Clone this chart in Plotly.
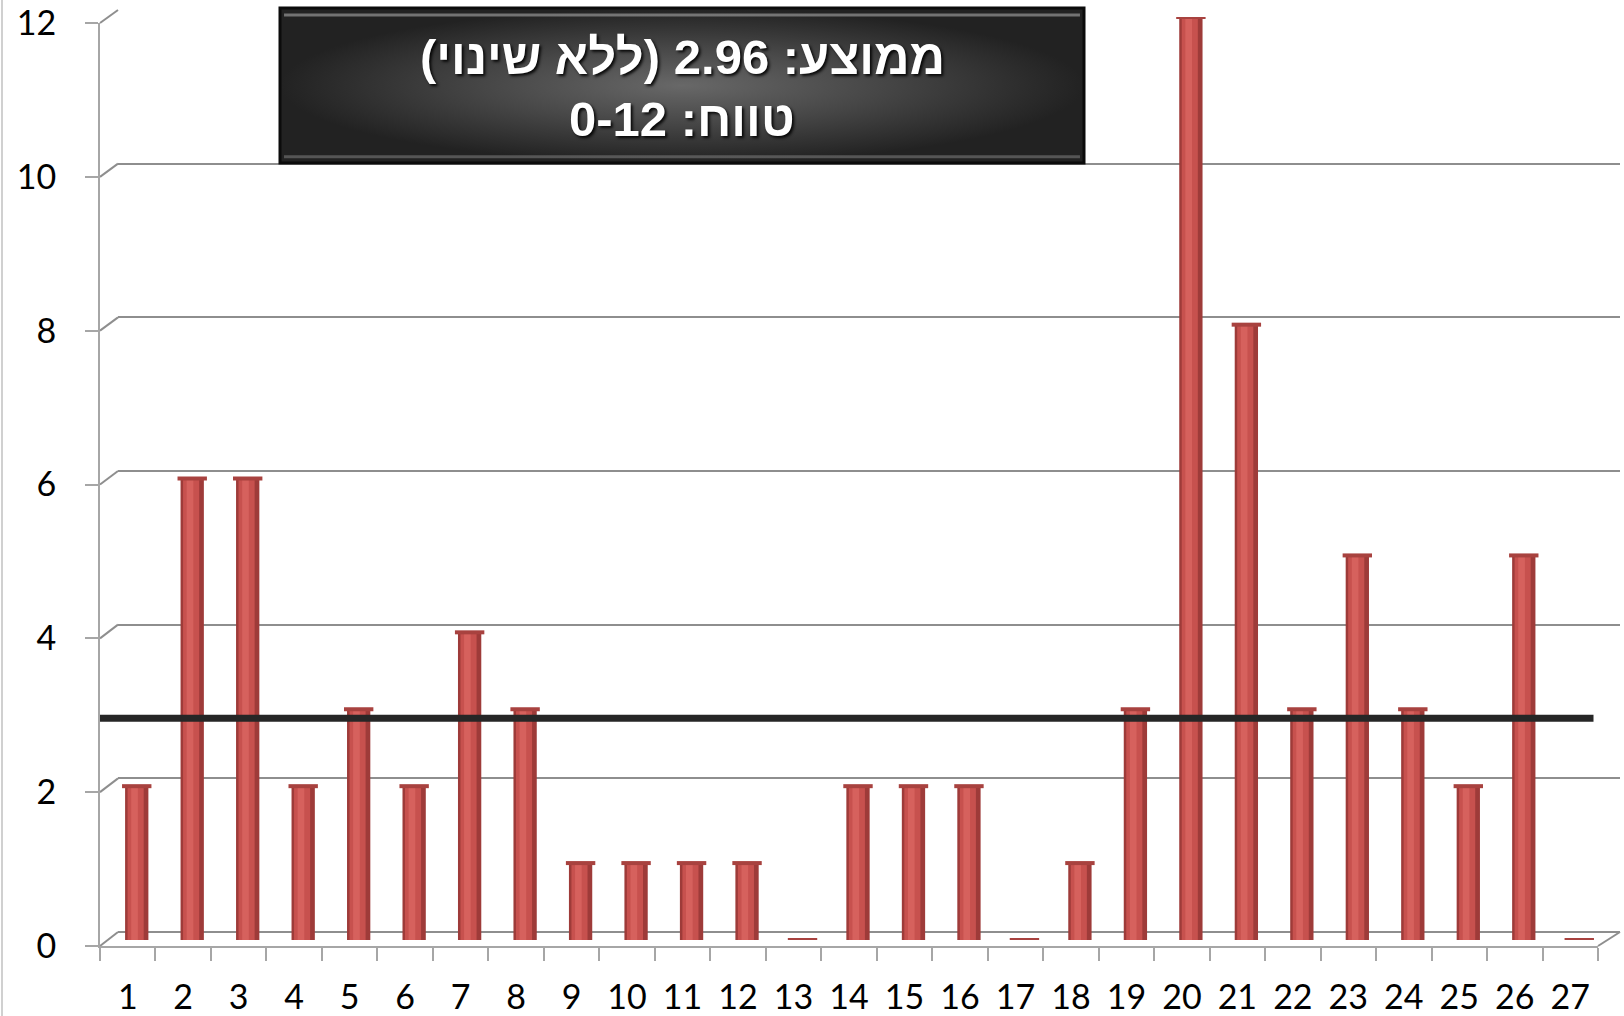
import plotly.graph_objects as go

# ---------------- data ----------------
categories = [str(i) for i in range(1, 28)]
values = [2, 6, 6, 2, 3, 2, 4, 3, 1, 1, 1, 1, 0, 2, 2, 2, 0, 1, 3, 12, 8, 3, 5, 3, 2, 5, 0]
average = 2.96
y_ticks = [0, 2, 4, 6, 8, 10, 12]
title_line1 = "ממוצע: 2.96 (ללא שינוי)"
title_line2 = "טווח: 0-12"

# ---------------- layout constants (pixels) ----------------
W, H = 1624, 1016
FRONT = dict(x0=100, x1=1598, yb=946, yt=23)   # front plane (axes + labels)
BARS = dict(x0=109, x1=1607, yb=940, yt=17)    # middle plane (bars)
BACK = dict(x0=118, x1=1620, yb=932, yt=10)    # back wall (gridlines)
BOX = dict(x0=280, x1=1084, yt=8, yb=163)      # title box


def xdom(p):
    return [p["x0"] / W, p["x1"] / W]


def ydom(p):
    return [(H - p["yb"]) / H, (H - p["yt"]) / H]


YMAX = 12
GRID = "#8E8E8E"
AXIS = "#A6A6A6"
FONT = "Lato, 'Open Sans', Calibri, sans-serif"

fig = go.Figure()

# back wall subplot (x, y) - invisible data trace to instantiate it
fig.add_trace(go.Scatter(x=categories, y=values, xaxis="x", yaxis="y",
                         mode="markers", marker=dict(opacity=0),
                         hoverinfo="skip", showlegend=False))

# bars (cylinder-like shading by overlaying narrower bars)
bar_layers = [
    dict(width=0.42, offset=-0.21, color="#9E3B39"),
    dict(width=0.29, offset=-0.165, color="#C7514E"),
    dict(width=0.12, offset=-0.10, color="#D6615D"),
]
for lay in bar_layers:
    fig.add_trace(go.Bar(x=categories, y=values, xaxis="x2", yaxis="y2",
                         width=lay["width"], offset=lay["offset"],
                         marker=dict(color=lay["color"], line=dict(width=0)),
                         hoverinfo="skip", showlegend=False))
# bar caps (flat ellipses)
fig.add_trace(go.Scatter(x=categories, y=values, xaxis="x2", yaxis="y2",
                         mode="markers",
                         marker=dict(symbol="line-ew", size=21,
                                     line=dict(width=4, color="#A8423F")),
                         hoverinfo="skip", showlegend=False))

# front axes subplot
fig.add_trace(go.Scatter(x=categories, y=values, xaxis="x3", yaxis="y3",
                         mode="markers", marker=dict(opacity=0),
                         hoverinfo="skip", showlegend=False))

# title box with radial gradient
fig.add_trace(go.Scatter(x=[0, 1, 1, 0, 0], y=[0, 0, 1, 1, 0], xaxis="x4", yaxis="y4",
                         mode="lines", fill="toself", line=dict(width=0),
                         fillgradient=dict(type="radial",
                                           colorscale=[[0, "#686868"], [0.5, "#464646"], [1, "#222222"]]),
                         hoverinfo="skip", showlegend=False))

cat_range = [-0.5, len(categories) - 0.5]
back_cat_w = (FRONT["x1"] - FRONT["x0"]) / len(categories)
back_range = [-0.5, -0.5 + (BACK["x1"] - BACK["x0"]) / back_cat_w]

fig.update_layout(
    width=W, height=H,
    margin=dict(l=0, r=0, t=0, b=0, autoexpand=False),
    paper_bgcolor="white", plot_bgcolor="rgba(0,0,0,0)",
    showlegend=False,
    barmode="overlay",
    # back wall
    xaxis=dict(domain=xdom(BACK), anchor="y", type="category", categoryarray=categories,
               range=back_range, visible=False),
    yaxis=dict(domain=ydom(BACK), anchor="x", range=[0, YMAX], tickvals=y_ticks,
               showgrid=True, gridcolor=GRID, gridwidth=2,
               zeroline=True, zerolinecolor=GRID, zerolinewidth=2,
               showticklabels=False, ticks="", showline=False),
    # bars
    xaxis2=dict(domain=xdom(BARS), anchor="y2", type="category", categoryarray=categories,
                range=cat_range, visible=False),
    yaxis2=dict(domain=ydom(BARS), anchor="x2", range=[0, YMAX], visible=False),
    # front axes
    xaxis3=dict(domain=xdom(FRONT), anchor="y3", type="category", categoryarray=categories,
                range=cat_range, showgrid=False, zeroline=False,
                showline=True, linecolor=AXIS, linewidth=2,
                ticks="outside", tickson="boundaries", ticklen=13, tickwidth=2, tickcolor=AXIS,
                tickfont=dict(family=FONT, size=34, color="black"), ticklabelstandoff=20),
    yaxis3=dict(domain=ydom(FRONT), anchor="x3", range=[0, YMAX], tickvals=y_ticks,
                showgrid=False, zeroline=False,
                showline=True, linecolor=AXIS, linewidth=2,
                ticks="outside", ticklen=13, tickwidth=2, tickcolor=AXIS,
                tickfont=dict(family=FONT, size=34, color="black"), ticklabelstandoff=22),
    # title box
    xaxis4=dict(domain=[BOX["x0"] / W, BOX["x1"] / W], anchor="y4", range=[0, 1], visible=False),
    yaxis4=dict(domain=[(H - BOX["yb"]) / H, (H - BOX["yt"]) / H], anchor="x4", range=[0, 1],
                visible=False),
)

shapes = []
# side-wall diagonals at each gridline (front axis -> back wall)
for v in y_ticks:
    yf = (H - (FRONT["yb"] - (FRONT["yb"] - FRONT["yt"]) * v / YMAX)) / H
    yb = (H - (BACK["yb"] - (BACK["yb"] - BACK["yt"]) * v / YMAX)) / H
    shapes.append(dict(type="line", xref="paper", yref="paper",
                       x0=FRONT["x0"] / W, y0=yf, x1=BACK["x0"] / W, y1=yb,
                       line=dict(color=GRID, width=2), layer="below"))
# floor right diagonal
shapes.append(dict(type="line", xref="paper", yref="paper",
                   x0=FRONT["x1"] / W, y0=(H - FRONT["yb"]) / H,
                   x1=BACK["x1"] / W, y1=(H - BACK["yb"]) / H,
                   line=dict(color=GRID, width=2), layer="below"))
# average line
shapes.append(dict(type="line", xref="x3 domain", yref="y3", x0=0, x1=0.997,
                   y0=average, y1=average, line=dict(color="#262626", width=7), layer="above"))
# title box outline
shapes.append(dict(type="rect", xref="x4 domain", yref="y4 domain", x0=0, x1=1, y0=0, y1=1,
                   line=dict(color="#0b0b0b", width=3), fillcolor="rgba(0,0,0,0)", layer="above"))
shapes.append(dict(type="line", xref="x4 domain", yref="y4 domain", x0=0.005, x1=0.995,
                   y0=0.955, y1=0.955, line=dict(color="rgba(150,150,150,0.7)", width=3), layer="above"))
shapes.append(dict(type="line", xref="x4 domain", yref="y4 domain", x0=0.005, x1=0.995,
                   y0=0.04, y1=0.04, line=dict(color="rgba(120,120,120,0.6)", width=3), layer="above"))
# page left border
shapes.append(dict(type="line", xref="paper", yref="paper", x0=2 / W, x1=2 / W, y0=0.0, y1=1,
                   line=dict(color="#D0D0D0", width=2), layer="below"))
fig.update_layout(shapes=shapes)

RLE, PDF = "\u202b", "\u202c"
TFONT = dict(family="'Liberation Sans Narrow', 'Arial Narrow', 'Liberation Sans', Arial, sans-serif",
             size=49, color="white", weight="bold", shadow="2px 2px 3px rgba(0,0,0,0.9)")
fig.add_annotation(xref="x4 domain", yref="paper", x=0.5, y=(H - 57) / H,
                   text=RLE + title_line1 + PDF, showarrow=False, font=TFONT,
                   xanchor="center", yanchor="middle")
fig.add_annotation(xref="x4 domain", yref="paper", x=0.5, y=(H - 119) / H,
                   text=RLE + title_line2 + PDF, showarrow=False, font=TFONT,
                   xanchor="center", yanchor="middle")

fig.write_html("out.html", config={"displayModeBar": False},
               post_script="document.body.style.margin='0px';")
